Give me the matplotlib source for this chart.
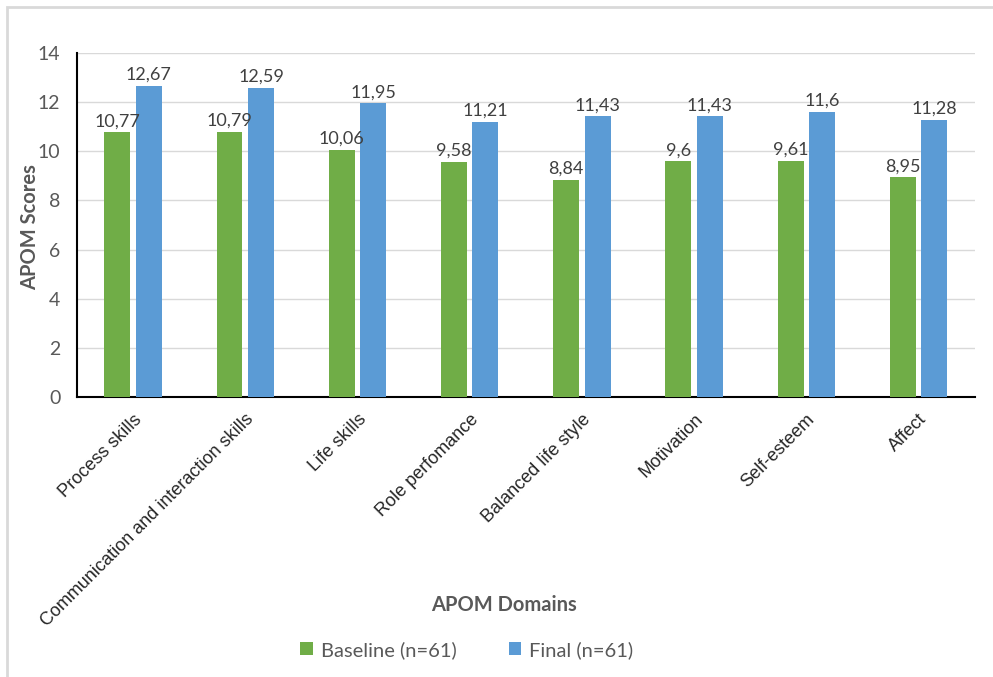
import numpy as np
import matplotlib
matplotlib.use("Agg")
import matplotlib.pyplot as plt
from matplotlib.patches import Rectangle

# data
domains = ["Process skills", "Communication and interaction skills", "Life skills",
           "Role perfomance", "Balanced life style", "Motivation", "Self-esteem", "Affect"]
baseline = [10.77, 10.79, 10.06, 9.58, 8.84, 9.6, 9.61, 8.95]
final = [12.67, 12.59, 11.95, 11.21, 11.43, 11.43, 11.6, 11.28]
baseline_name = "Baseline (n=61)"
final_name = "Final (n=61)"

plt.rcParams['font.family'] = ['Lato', 'DejaVu Sans']

fig = plt.figure(figsize=(9.93, 6.77), dpi=100)
ax = fig.add_axes([0.0775, 0.4136, 0.904, 0.508])

x = np.arange(len(domains))
w = 0.23
b1 = ax.bar(x - 0.14, baseline, w, color="#70AD47", label=baseline_name, zorder=3)
b2 = ax.bar(x + 0.14, final, w, color="#5B9BD5", label=final_name, zorder=3)

def fmt(v):
    return ("%g" % v).replace(".", ",")

for bars, vals in ((b1, baseline), (b2, final)):
    for r, v in zip(bars, vals):
        ax.text(r.get_x() + r.get_width() / 2, v + 0.12, fmt(v), ha="center", va="bottom",
                fontsize=13, color="#404040")

ax.set_xlim(-0.5, len(domains) - 0.5)
ax.set_ylim(0, 14)
ax.set_yticks(np.arange(0, 15, 2))
ax.yaxis.grid(True, color="#d9d9d9", linewidth=1, zorder=0)
ax.tick_params(axis="y", length=0, labelsize=14, labelcolor="#595959", pad=12)
ax.tick_params(axis="x", length=0, pad=10)
ax.set_xticks(x)
ax.set_xticklabels(domains, rotation=45, ha="right", rotation_mode="anchor",
                   fontsize=13, family=["Liberation Sans", "DejaVu Sans"], color="#262626")
for s in ("top", "right"):
    ax.spines[s].set_visible(False)
ax.spines["left"].set_color("black")
ax.spines["bottom"].set_color("black")
ax.spines["left"].set_linewidth(1.5)
ax.spines["bottom"].set_linewidth(1.5)

fig.text(0.03, 0.665, "APOM Scores", rotation=90, ha="center", va="center",
         fontsize=14.5, fontweight="bold", color="#595959")
fig.text(0.508, 0.106, "APOM Domains", ha="center", va="center",
         fontsize=14.5, fontweight="bold", color="#595959")

fig.legend(handles=[b1, b2], loc="center", bbox_to_anchor=(0.47, 0.04), ncol=2,
           frameon=False, fontsize=14.5, handlelength=0.6, handleheight=0.6,
           columnspacing=2.6, handletextpad=0.4, labelcolor="#595959")

fig.patches.append(Rectangle((0.007, -0.01), 1.1, 1.0, transform=fig.transFigure,
                             fill=False, edgecolor="#d9d9d9", linewidth=2))

fig.savefig("out.png", dpi=100)
